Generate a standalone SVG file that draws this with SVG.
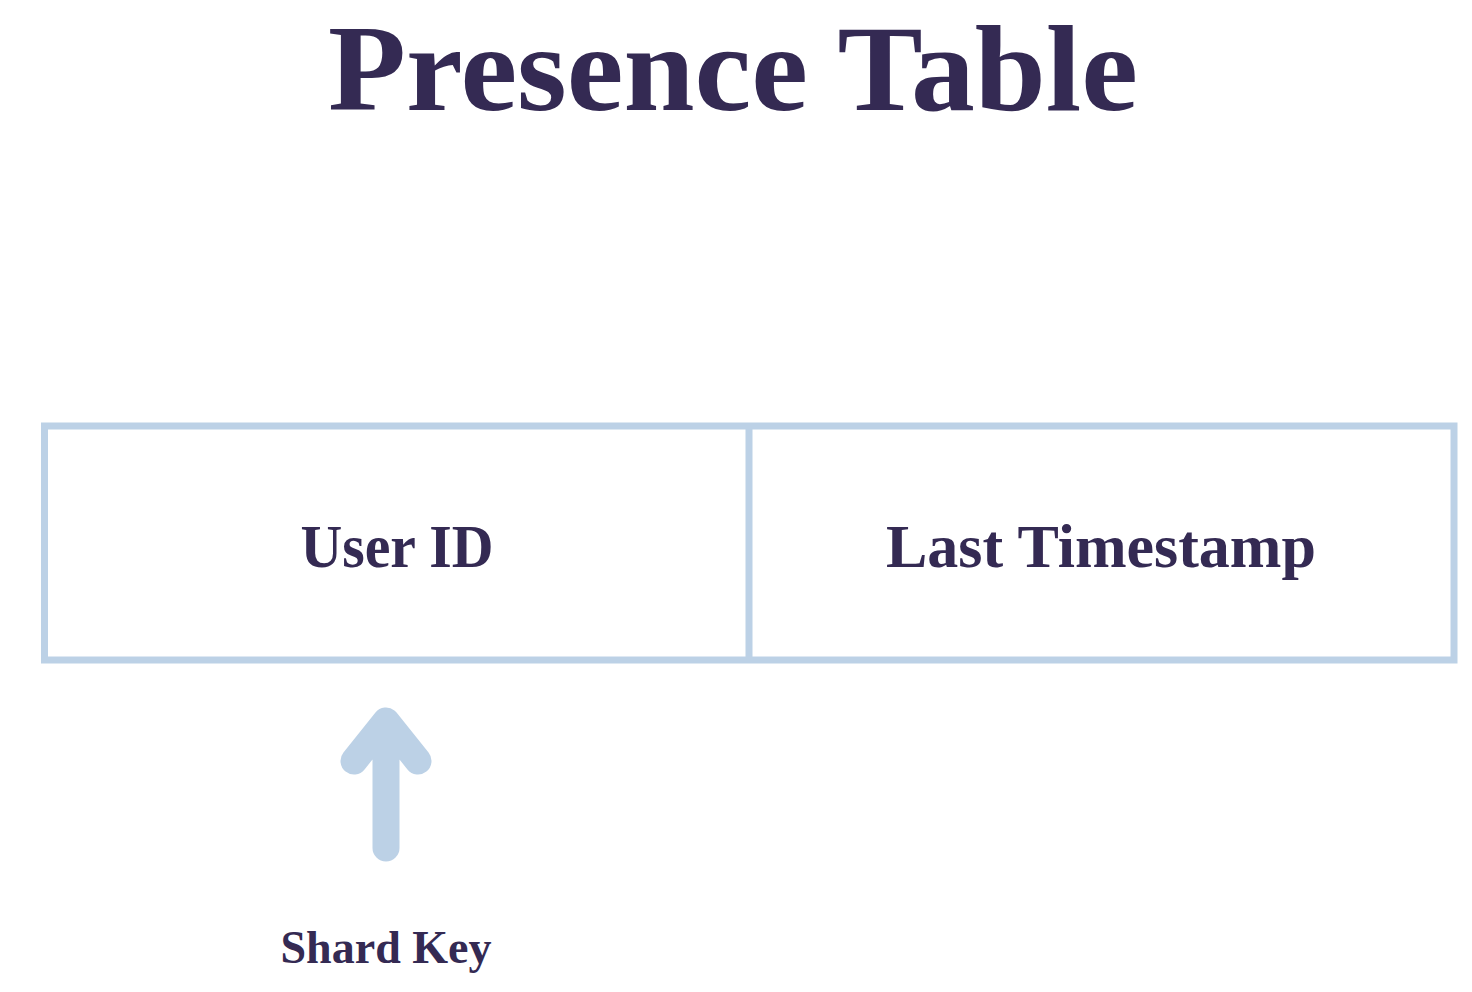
<svg xmlns="http://www.w3.org/2000/svg" width="1472" height="992" viewBox="0 0 1472 992">
<style>
.t{font-family:"Liberation Serif","Times New Roman",serif;font-weight:bold;fill:#342a53;text-anchor:middle}
.ln{fill:none;stroke:#bcd1e6;stroke-width:7}
.ar{fill:none;stroke:#bcd1e6;stroke-width:27;stroke-linecap:round;stroke-linejoin:round}
</style>
<rect width="1472" height="992" fill="#ffffff"/>
<g id="title"><text class="t" x="733" y="110" font-size="122" textLength="810" lengthAdjust="spacingAndGlyphs">Presence Table</text></g>
<g id="table">
<rect class="ln" x="44.5" y="426" width="1409.5" height="234"/>
<line class="ln" x1="749" y1="426" x2="749" y2="660"/>
</g>
<g id="userid"><text class="t" x="397" y="567" font-size="62" textLength="193" lengthAdjust="spacingAndGlyphs">User ID</text></g>
<g id="lastts"><text class="t" x="1101" y="567" font-size="62" textLength="430" lengthAdjust="spacingAndGlyphs">Last Timestamp</text></g>
<g id="connectors">
<path class="ar" d="M386 848 V722 M354 761 L386 721 L418 761"/>
</g>
<g id="shardkey"><text class="t" x="386" y="963" font-size="46" textLength="211" lengthAdjust="spacingAndGlyphs">Shard Key</text></g>
</svg>
